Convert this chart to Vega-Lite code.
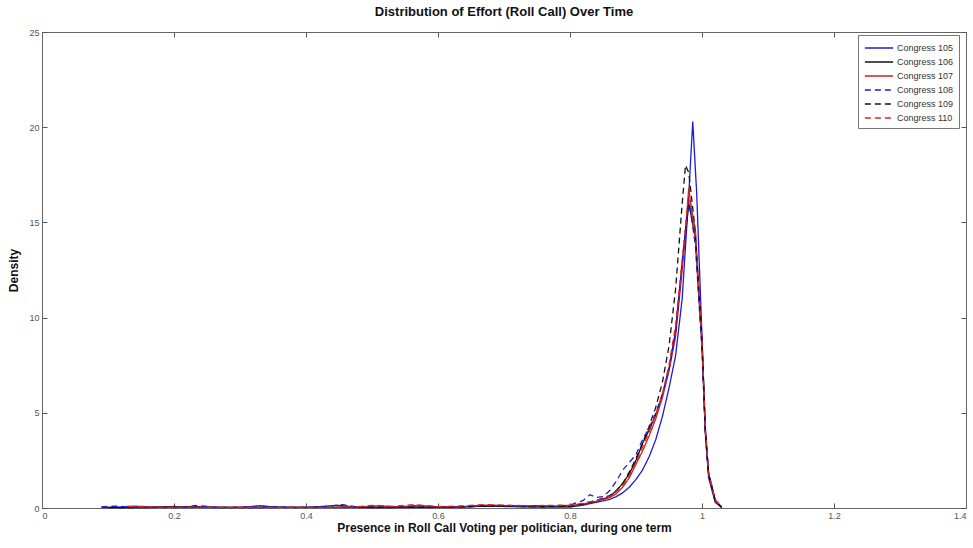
{
  "$schema": "https://vega.github.io/schema/vega-lite/v6.json",
  "width": 924,
  "height": 476,
  "autosize": {"type": "none"},
  "padding": {"left": 42, "top": 32, "right": 7, "bottom": 40},
  "background": "white",
  "title": {"text": "Distribution of Effort (Roll Call) Over Time", "fontSize": 13, "font": "Liberation Sans", "fontWeight": "bold", "color": "#111", "offset": 9, "anchor": "middle"},
  "config": {
    "view": {"stroke": "#666", "strokeWidth": 1},
    "axis": {"labelFont": "Liberation Sans", "labelFontSize": 9, "labelColor": "#555", "titleFont": "Liberation Sans", "titleFontSize": 12, "titleFontWeight": "bold", "titleColor": "#111", "grid": false, "domainColor": "#666", "tickColor": "#555", "tickSize": -5, "labelPadding": 8}
  },
  "data": {"values": [
    {"c":"Congress 105","x":0.09,"d":0.03},{"c":"Congress 105","x":0.12,"d":0.04},{"c":"Congress 105","x":0.16,"d":0.02},{"c":"Congress 105","x":0.2,"d":0.05},{"c":"Congress 105","x":0.23,"d":0.08},{"c":"Congress 105","x":0.26,"d":0.03},{"c":"Congress 105","x":0.3,"d":0.03},{"c":"Congress 105","x":0.33,"d":0.12},{"c":"Congress 105","x":0.36,"d":0.03},{"c":"Congress 105","x":0.4,"d":0.03},{"c":"Congress 105","x":0.45,"d":0.14},{"c":"Congress 105","x":0.48,"d":0.03},{"c":"Congress 105","x":0.52,"d":0.02},{"c":"Congress 105","x":0.56,"d":0.04},{"c":"Congress 105","x":0.6,"d":0.03},{"c":"Congress 105","x":0.64,"d":0.05},{"c":"Congress 105","x":0.67,"d":0.1},{"c":"Congress 105","x":0.7,"d":0.08},{"c":"Congress 105","x":0.74,"d":0.05},{"c":"Congress 105","x":0.77,"d":0.05},{"c":"Congress 105","x":0.8,"d":0.05},
    {"c":"Congress 105","x":0.82,"d":0.15},{"c":"Congress 105","x":0.84,"d":0.3},{"c":"Congress 105","x":0.86,"d":0.45},{"c":"Congress 105","x":0.87,"d":0.6},{"c":"Congress 105","x":0.88,"d":0.8},{"c":"Congress 105","x":0.89,"d":1.1},{"c":"Congress 105","x":0.9,"d":1.5},{"c":"Congress 105","x":0.91,"d":2.0},{"c":"Congress 105","x":0.92,"d":2.7},{"c":"Congress 105","x":0.93,"d":3.6},{"c":"Congress 105","x":0.94,"d":4.8},{"c":"Congress 105","x":0.95,"d":6.3},{"c":"Congress 105","x":0.96,"d":8.0},{"c":"Congress 105","x":0.97,"d":11.0},{"c":"Congress 105","x":0.98,"d":16.5},{"c":"Congress 105","x":0.986,"d":20.3},{"c":"Congress 105","x":0.992,"d":16.5},{"c":"Congress 105","x":1.0,"d":9.0},{"c":"Congress 105","x":1.005,"d":4.0},{"c":"Congress 105","x":1.01,"d":1.6},{"c":"Congress 105","x":1.02,"d":0.3},{"c":"Congress 105","x":1.03,"d":0.02},

    {"c":"Congress 106","x":0.1,"d":0.02},{"c":"Congress 106","x":0.15,"d":0.03},{"c":"Congress 106","x":0.2,"d":0.08},{"c":"Congress 106","x":0.22,"d":0.05},{"c":"Congress 106","x":0.28,"d":0.03},{"c":"Congress 106","x":0.35,"d":0.04},{"c":"Congress 106","x":0.42,"d":0.03},{"c":"Congress 106","x":0.5,"d":0.04},{"c":"Congress 106","x":0.58,"d":0.05},{"c":"Congress 106","x":0.65,"d":0.08},{"c":"Congress 106","x":0.7,"d":0.1},{"c":"Congress 106","x":0.75,"d":0.12},{"c":"Congress 106","x":0.78,"d":0.08},{"c":"Congress 106","x":0.8,"d":0.1},
    {"c":"Congress 106","x":0.82,"d":0.2},{"c":"Congress 106","x":0.84,"d":0.35},{"c":"Congress 106","x":0.86,"d":0.6},{"c":"Congress 106","x":0.87,"d":0.9},{"c":"Congress 106","x":0.88,"d":1.3},{"c":"Congress 106","x":0.89,"d":1.8},{"c":"Congress 106","x":0.9,"d":2.5},{"c":"Congress 106","x":0.91,"d":3.4},{"c":"Congress 106","x":0.92,"d":4.1},{"c":"Congress 106","x":0.93,"d":4.9},{"c":"Congress 106","x":0.94,"d":5.9},{"c":"Congress 106","x":0.95,"d":7.3},{"c":"Congress 106","x":0.96,"d":9.3},{"c":"Congress 106","x":0.97,"d":12.8},{"c":"Congress 106","x":0.98,"d":16.0},{"c":"Congress 106","x":0.99,"d":14.2},{"c":"Congress 106","x":1.0,"d":8.6},{"c":"Congress 106","x":1.005,"d":4.1},{"c":"Congress 106","x":1.01,"d":1.8},{"c":"Congress 106","x":1.02,"d":0.4},{"c":"Congress 106","x":1.03,"d":0.03},

    {"c":"Congress 107","x":0.12,"d":0.06},{"c":"Congress 107","x":0.14,"d":0.1},{"c":"Congress 107","x":0.17,"d":0.05},{"c":"Congress 107","x":0.2,"d":0.04},{"c":"Congress 107","x":0.25,"d":0.03},{"c":"Congress 107","x":0.3,"d":0.04},{"c":"Congress 107","x":0.36,"d":0.03},{"c":"Congress 107","x":0.42,"d":0.03},{"c":"Congress 107","x":0.48,"d":0.05},{"c":"Congress 107","x":0.51,"d":0.12},{"c":"Congress 107","x":0.54,"d":0.06},{"c":"Congress 107","x":0.57,"d":0.14},{"c":"Congress 107","x":0.6,"d":0.06},{"c":"Congress 107","x":0.64,"d":0.08},{"c":"Congress 107","x":0.68,"d":0.15},{"c":"Congress 107","x":0.71,"d":0.12},{"c":"Congress 107","x":0.75,"d":0.1},{"c":"Congress 107","x":0.78,"d":0.1},{"c":"Congress 107","x":0.8,"d":0.12},
    {"c":"Congress 107","x":0.82,"d":0.2},{"c":"Congress 107","x":0.84,"d":0.35},{"c":"Congress 107","x":0.86,"d":0.55},{"c":"Congress 107","x":0.87,"d":0.75},{"c":"Congress 107","x":0.88,"d":1.1},{"c":"Congress 107","x":0.89,"d":1.6},{"c":"Congress 107","x":0.9,"d":2.3},{"c":"Congress 107","x":0.91,"d":3.0},{"c":"Congress 107","x":0.92,"d":3.8},{"c":"Congress 107","x":0.93,"d":4.7},{"c":"Congress 107","x":0.94,"d":5.8},{"c":"Congress 107","x":0.95,"d":7.2},{"c":"Congress 107","x":0.96,"d":9.0},{"c":"Congress 107","x":0.97,"d":12.5},{"c":"Congress 107","x":0.98,"d":16.8},{"c":"Congress 107","x":0.99,"d":14.0},{"c":"Congress 107","x":1.0,"d":8.5},{"c":"Congress 107","x":1.005,"d":4.0},{"c":"Congress 107","x":1.01,"d":1.8},{"c":"Congress 107","x":1.02,"d":0.4},{"c":"Congress 107","x":1.03,"d":0.03},

    {"c":"Congress 108","x":0.09,"d":0.06},{"c":"Congress 108","x":0.11,"d":0.1},{"c":"Congress 108","x":0.14,"d":0.04},{"c":"Congress 108","x":0.18,"d":0.03},{"c":"Congress 108","x":0.22,"d":0.06},{"c":"Congress 108","x":0.235,"d":0.14},{"c":"Congress 108","x":0.26,"d":0.04},{"c":"Congress 108","x":0.3,"d":0.03},{"c":"Congress 108","x":0.34,"d":0.08},{"c":"Congress 108","x":0.38,"d":0.03},{"c":"Congress 108","x":0.42,"d":0.04},{"c":"Congress 108","x":0.455,"d":0.18},{"c":"Congress 108","x":0.48,"d":0.04},{"c":"Congress 108","x":0.52,"d":0.03},{"c":"Congress 108","x":0.56,"d":0.05},{"c":"Congress 108","x":0.6,"d":0.04},{"c":"Congress 108","x":0.64,"d":0.06},{"c":"Congress 108","x":0.67,"d":0.14},{"c":"Congress 108","x":0.7,"d":0.1},{"c":"Congress 108","x":0.74,"d":0.06},{"c":"Congress 108","x":0.77,"d":0.06},{"c":"Congress 108","x":0.8,"d":0.15},
    {"c":"Congress 108","x":0.82,"d":0.4},{"c":"Congress 108","x":0.83,"d":0.7},{"c":"Congress 108","x":0.84,"d":0.55},{"c":"Congress 108","x":0.85,"d":0.6},{"c":"Congress 108","x":0.86,"d":0.9},{"c":"Congress 108","x":0.87,"d":1.4},{"c":"Congress 108","x":0.88,"d":2.0},{"c":"Congress 108","x":0.89,"d":2.4},{"c":"Congress 108","x":0.9,"d":2.8},{"c":"Congress 108","x":0.91,"d":3.6},{"c":"Congress 108","x":0.92,"d":4.2},{"c":"Congress 108","x":0.93,"d":5.0},{"c":"Congress 108","x":0.94,"d":6.0},{"c":"Congress 108","x":0.95,"d":7.3},{"c":"Congress 108","x":0.96,"d":9.2},{"c":"Congress 108","x":0.97,"d":13.0},{"c":"Congress 108","x":0.98,"d":16.2},{"c":"Congress 108","x":0.99,"d":13.8},{"c":"Congress 108","x":1.0,"d":8.3},{"c":"Congress 108","x":1.005,"d":3.9},{"c":"Congress 108","x":1.01,"d":1.7},{"c":"Congress 108","x":1.02,"d":0.35},{"c":"Congress 108","x":1.03,"d":0.02},

    {"c":"Congress 109","x":0.1,"d":0.03},{"c":"Congress 109","x":0.14,"d":0.02},{"c":"Congress 109","x":0.19,"d":0.06},{"c":"Congress 109","x":0.24,"d":0.03},{"c":"Congress 109","x":0.3,"d":0.02},{"c":"Congress 109","x":0.36,"d":0.03},{"c":"Congress 109","x":0.44,"d":0.03},{"c":"Congress 109","x":0.5,"d":0.05},{"c":"Congress 109","x":0.56,"d":0.04},{"c":"Congress 109","x":0.62,"d":0.06},{"c":"Congress 109","x":0.68,"d":0.09},{"c":"Congress 109","x":0.72,"d":0.1},{"c":"Congress 109","x":0.76,"d":0.08},{"c":"Congress 109","x":0.8,"d":0.1},
    {"c":"Congress 109","x":0.82,"d":0.2},{"c":"Congress 109","x":0.84,"d":0.4},{"c":"Congress 109","x":0.86,"d":0.65},{"c":"Congress 109","x":0.87,"d":0.9},{"c":"Congress 109","x":0.88,"d":1.3},{"c":"Congress 109","x":0.89,"d":1.9},{"c":"Congress 109","x":0.9,"d":2.6},{"c":"Congress 109","x":0.91,"d":3.4},{"c":"Congress 109","x":0.92,"d":4.3},{"c":"Congress 109","x":0.93,"d":5.3},{"c":"Congress 109","x":0.94,"d":6.6},{"c":"Congress 109","x":0.95,"d":8.5},{"c":"Congress 109","x":0.96,"d":11.5},{"c":"Congress 109","x":0.97,"d":16.0},{"c":"Congress 109","x":0.975,"d":18.0},{"c":"Congress 109","x":0.98,"d":17.6},{"c":"Congress 109","x":0.99,"d":14.5},{"c":"Congress 109","x":1.0,"d":8.8},{"c":"Congress 109","x":1.005,"d":4.2},{"c":"Congress 109","x":1.01,"d":1.8},{"c":"Congress 109","x":1.02,"d":0.4},{"c":"Congress 109","x":1.03,"d":0.03},

    {"c":"Congress 110","x":0.13,"d":0.08},{"c":"Congress 110","x":0.15,"d":0.05},{"c":"Congress 110","x":0.19,"d":0.04},{"c":"Congress 110","x":0.23,"d":0.05},{"c":"Congress 110","x":0.27,"d":0.03},{"c":"Congress 110","x":0.32,"d":0.03},{"c":"Congress 110","x":0.38,"d":0.04},{"c":"Congress 110","x":0.43,"d":0.03},{"c":"Congress 110","x":0.47,"d":0.05},{"c":"Congress 110","x":0.505,"d":0.15},{"c":"Congress 110","x":0.53,"d":0.08},{"c":"Congress 110","x":0.565,"d":0.18},{"c":"Congress 110","x":0.6,"d":0.07},{"c":"Congress 110","x":0.63,"d":0.1},{"c":"Congress 110","x":0.67,"d":0.18},{"c":"Congress 110","x":0.7,"d":0.15},{"c":"Congress 110","x":0.74,"d":0.12},{"c":"Congress 110","x":0.77,"d":0.14},{"c":"Congress 110","x":0.8,"d":0.15},
    {"c":"Congress 110","x":0.82,"d":0.25},{"c":"Congress 110","x":0.84,"d":0.4},{"c":"Congress 110","x":0.86,"d":0.6},{"c":"Congress 110","x":0.87,"d":0.85},{"c":"Congress 110","x":0.88,"d":1.2},{"c":"Congress 110","x":0.89,"d":1.7},{"c":"Congress 110","x":0.9,"d":2.4},{"c":"Congress 110","x":0.91,"d":3.2},{"c":"Congress 110","x":0.92,"d":4.0},{"c":"Congress 110","x":0.93,"d":4.9},{"c":"Congress 110","x":0.94,"d":6.0},{"c":"Congress 110","x":0.95,"d":7.5},{"c":"Congress 110","x":0.96,"d":9.6},{"c":"Congress 110","x":0.97,"d":13.0},{"c":"Congress 110","x":0.98,"d":16.5},{"c":"Congress 110","x":0.99,"d":14.6},{"c":"Congress 110","x":1.0,"d":8.9},{"c":"Congress 110","x":1.005,"d":4.3},{"c":"Congress 110","x":1.01,"d":1.9},{"c":"Congress 110","x":1.02,"d":0.45},{"c":"Congress 110","x":1.03,"d":0.03}
  ]},
  "layer": [
    {
      "mark": {"type": "line", "strokeCap": "butt"},
      "encoding": {
        "x": {"field": "x", "type": "quantitative", "scale": {"domain": [0, 1.4], "nice": false}, "axis": {"values": [0,0.2,0.4,0.6,0.8,1,1.2,1.4], "format": "~g", "title": "Presence in Roll Call Voting per politician, during one term", "titlePadding": 2}},
        "y": {"field": "d", "type": "quantitative", "scale": {"domain": [0, 25], "nice": false}, "axis": {"values": [0,5,10,15,20,25], "title": "Density", "titlePadding": 8}},
        "color": {"field": "c", "type": "nominal", "scale": {"domain": ["Congress 105","Congress 106","Congress 107","Congress 108","Congress 109","Congress 110"], "range": ["#1c1cd8","#111111","#d41c1c","#1c1cd8","#111111","#e02424"]}, "legend": {"title": null, "orient": "none", "legendX": 816, "legendY": 3, "symbolType": "M-2,0H2", "symbolSize": 200, "symbolOffset": 8, "labelFont": "Liberation Sans", "labelFontSize": 9, "labelColor": "#333", "strokeColor": "#777", "padding": 5, "rowPadding": 1, "labelOffset": 10, "fillColor": "white"}},
        "strokeDash": {"field": "c", "type": "nominal", "scale": {"domain": ["Congress 105","Congress 106","Congress 107","Congress 108","Congress 109","Congress 110"], "range": [[1,0],[1,0],[1,0],[6,4],[6,4],[6,4]]}},
        "strokeWidth": {"field": "c", "type": "nominal", "scale": {"domain": ["Congress 105","Congress 106","Congress 107","Congress 108","Congress 109","Congress 110"], "range": [1.3,1.3,1.5,2.4,2.4,2.4]}},
        "order": {"field": "x", "type": "quantitative"}
      }
    },
    {
      "mark": {"type": "line", "opacity": 0},
      "encoding": {
        "x": {"field": "x", "type": "quantitative", "scale": {"domain": [0, 1.4], "nice": false}, "axis": {"orient": "top", "values": [0,0.2,0.4,0.6,0.8,1,1.2,1.4], "labels": false, "title": null}},
        "y": {"field": "d", "type": "quantitative", "scale": {"domain": [0, 25], "nice": false}, "axis": {"orient": "right", "values": [0,5,10,15,20,25], "labels": false, "title": null}},
        "detail": {"field": "c"}
      }
    }
  ],
  "resolve": {"axis": {"x": "independent", "y": "independent"}}
}
